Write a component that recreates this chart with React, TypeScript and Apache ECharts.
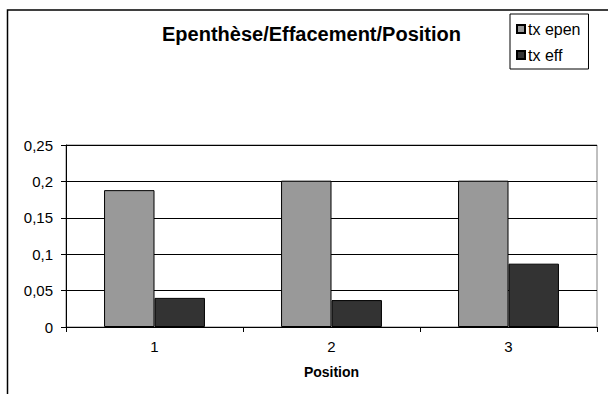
import React, { useEffect, useRef } from "react";
import * as echarts from "echarts";

const categories = ["1", "2", "3"];
const txEpen = [0.188, 0.201, 0.201];
const txEff = [0.04, 0.037, 0.087];
const yTicks = { min: 0, max: 0.25, interval: 0.05 };
const FONT = "Liberation Sans, Arial, sans-serif";

export default function App() {
  const ref = useRef<HTMLDivElement>(null);
  useEffect(() => {
    if (!ref.current) return;
    const chart = echarts.init(ref.current, undefined, { renderer: "svg" });
    chart.setOption({
      animation: false,
      backgroundColor: "#ffffff",
      textStyle: { fontFamily: FONT },
      title: {
        text: "Epenthèse/Effacement/Position",
        left: 162,
        top: 24,
        padding: 0,
        textStyle: { fontFamily: FONT, fontSize: 20, fontWeight: "bold", color: "#000" },
      },
      legend: {
        orient: "vertical",
        left: 510,
        top: 14,
        padding: [7, 8, 6, 6],
        itemWidth: 8,
        itemHeight: 8,
        itemGap: 10,
        borderColor: "#000",
        borderWidth: 1,
        backgroundColor: "#fff",
        icon: "rect",
        textStyle: { fontFamily: FONT, fontSize: 16, color: "#000", padding: [0, 0, 0, -2] },
        data: ["tx epen", "tx eff"],
      },
      graphic: [
        {
          type: "rect",
          shape: { x: 7.5, y: 10, width: 700, height: 500 },
          style: { fill: "none", stroke: "#000", lineWidth: 1.5 },
          silent: true,
          z: -10,
        },
      ],
      grid: {
        left: 66,
        right: 11,
        top: 145,
        bottom: 67,
        show: true,
        borderColor: "#808080",
        borderWidth: 1,
      },
      xAxis: {
        type: "category",
        data: categories,
        name: "Position",
        nameLocation: "middle",
        nameGap: 38,
        nameTextStyle: { fontFamily: FONT, fontSize: 14, fontWeight: "bold", color: "#000" },
        axisLine: { lineStyle: { color: "#000", width: 1 } },
        axisTick: { show: true, length: 5, lineStyle: { color: "#000" } },
        axisLabel: { fontFamily: FONT, fontSize: 15, color: "#000", margin: 12 },
      },
      yAxis: {
        type: "value",
        min: yTicks.min,
        max: yTicks.max,
        interval: yTicks.interval,
        axisLine: { show: true, lineStyle: { color: "#000", width: 1 } },
        axisTick: { show: true, length: 5, lineStyle: { color: "#000" } },
        axisLabel: {
          fontFamily: FONT,
          fontSize: 15,
          color: "#000",
          margin: 13,
          formatter: (v: number) => String(+v.toFixed(2)).replace(".", ","),
        },
        splitLine: { show: true, lineStyle: { color: "#000", width: 1 } },
      },
      series: [
        {
          name: "tx epen",
          type: "bar",
          data: txEpen,
          barGap: "0%",
          barCategoryGap: "43%",
          itemStyle: { color: "#999999", borderColor: "#000", borderWidth: 1 },
        },
        {
          name: "tx eff",
          type: "bar",
          data: txEff,
          barGap: "0%",
          barCategoryGap: "43%",
          itemStyle: { color: "#333333", borderColor: "#000", borderWidth: 1 },
        },
      ],
    });
    return () => chart.dispose();
  }, []);
  return <div ref={ref} style={{ width: 608, height: 394, position: "absolute", left: 0, top: 0 }} />;
}
